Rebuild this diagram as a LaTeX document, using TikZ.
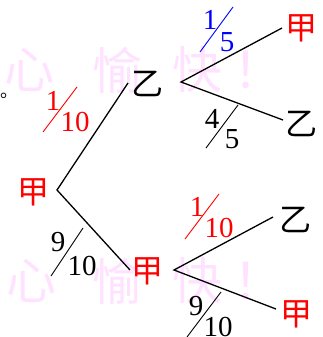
\documentclass[tikz,border=0pt]{standalone}
\usepackage{fontspec}
\setmainfont{Liberation Serif}
\newfontfamily\cjk{Noto Sans CJK SC}
\definecolor{wm}{RGB}{255,226,255}
\definecolor{myred}{RGB}{255,0,0}
\definecolor{myblue}{RGB}{0,0,255}
\tikzset{
  lbl/.style={inner sep=0pt,font=\cjk\fontsize{32}{32}\selectfont},
  dig/.style={inner sep=0pt,font=\fontsize{29}{29}\selectfont},
  wmark/.style={inner sep=0pt,text=wm,font=\cjk\fontsize{50}{50}\selectfont},
  branch/.style={line width=1.3pt,black},
  slash/.style={line width=0.9pt},
}
\begin{document}
\begin{tikzpicture}[x=1pt,y=-1pt]
\useasboundingbox (0,0) rectangle (322,337);
% watermark
\node[wmark] (w1) at (30,70) {心};
\node[wmark] (w2) at (117,70) {愉};
\node[wmark] (w3) at (197,70) {快};
\node[wmark] (w4) at (258,70) {！};
\node[wmark] (w5) at (31,281) {心};
\node[wmark] (w6) at (117,281) {愉};
\node[wmark] (w7) at (197,281) {快};
\node[wmark] (w8) at (258,281) {！};
% full stop
\node[inner sep=0pt,font=\cjk\fontsize{18}{18}\selectfont] (dot) at (10,96) {。};
% labels
\node[lbl,text=myred] (R) at (33,192) {甲};
\node[lbl] (A) at (147,84) {乙};
\node[lbl,text=myred] (B) at (147,271) {甲};
\node[lbl,text=myred] (AA) at (301,28) {甲};
\node[lbl] (AB) at (301,124) {乙};
\node[lbl] (BA) at (295,220) {乙};
\node[lbl,text=myred] (BB) at (296,314) {甲};
% branch points
\coordinate (r) at (57,190);
\coordinate (a) at (181,82);
\coordinate (b) at (174,270);
\coordinate (rA) at (128,83);
\coordinate (rB) at (130,270);
\coordinate (aA) at (282,28);
\coordinate (aB) at (283,120);
\coordinate (bA) at (273,217);
\coordinate (bB) at (276,309);
\draw[branch] (rA) -- (r) -- (rB);
\draw[branch] (aA) -- (a) -- (aB);
\draw[branch] (bA) -- (b) -- (bB);
% fractions
\begin{scope}[myred]
\node[dig,text=myred] (f1n) at (53,101) {1};
\node[dig,text=myred] (f1d) at (75,122) {10};
\coordinate (f1a) at (43,132); \coordinate (f1b) at (77,87);
\draw[slash] (f1a) -- (f1b);
\end{scope}
\begin{scope}[myblue]
\node[dig,text=myblue] (f2n) at (210,20) {1};
\node[dig,text=myblue] (f2d) at (227,42) {5};
\coordinate (f2a) at (200,52); \coordinate (f2b) at (233,7);
\draw[slash] (f2a) -- (f2b);
\end{scope}
\node[dig] (f3n) at (212,119) {4};
\node[dig] (f3d) at (232,139) {5};
\coordinate (f3a) at (206,148); \coordinate (f3b) at (238,105);
\draw[slash] (f3a) -- (f3b);
\node[dig] (f4n) at (58,242) {9};
\node[dig] (f4d) at (82,266) {10};
\coordinate (f4a) at (51,276); \coordinate (f4b) at (83,228);
\draw[slash] (f4a) -- (f4b);
\begin{scope}[myred]
\node[dig,text=myred] (f5n) at (197,207) {1};
\node[dig,text=myred] (f5d) at (219,228) {10};
\coordinate (f5a) at (185,239); \coordinate (f5b) at (219,194);
\draw[slash] (f5a) -- (f5b);
\end{scope}
\node[dig] (f6n) at (196,306) {9};
\node[dig] (f6d) at (218,327) {10};
\coordinate (f6a) at (187,337); \coordinate (f6b) at (221,292);
\draw[slash] (f6a) -- (f6b);
\end{tikzpicture}
\end{document}
